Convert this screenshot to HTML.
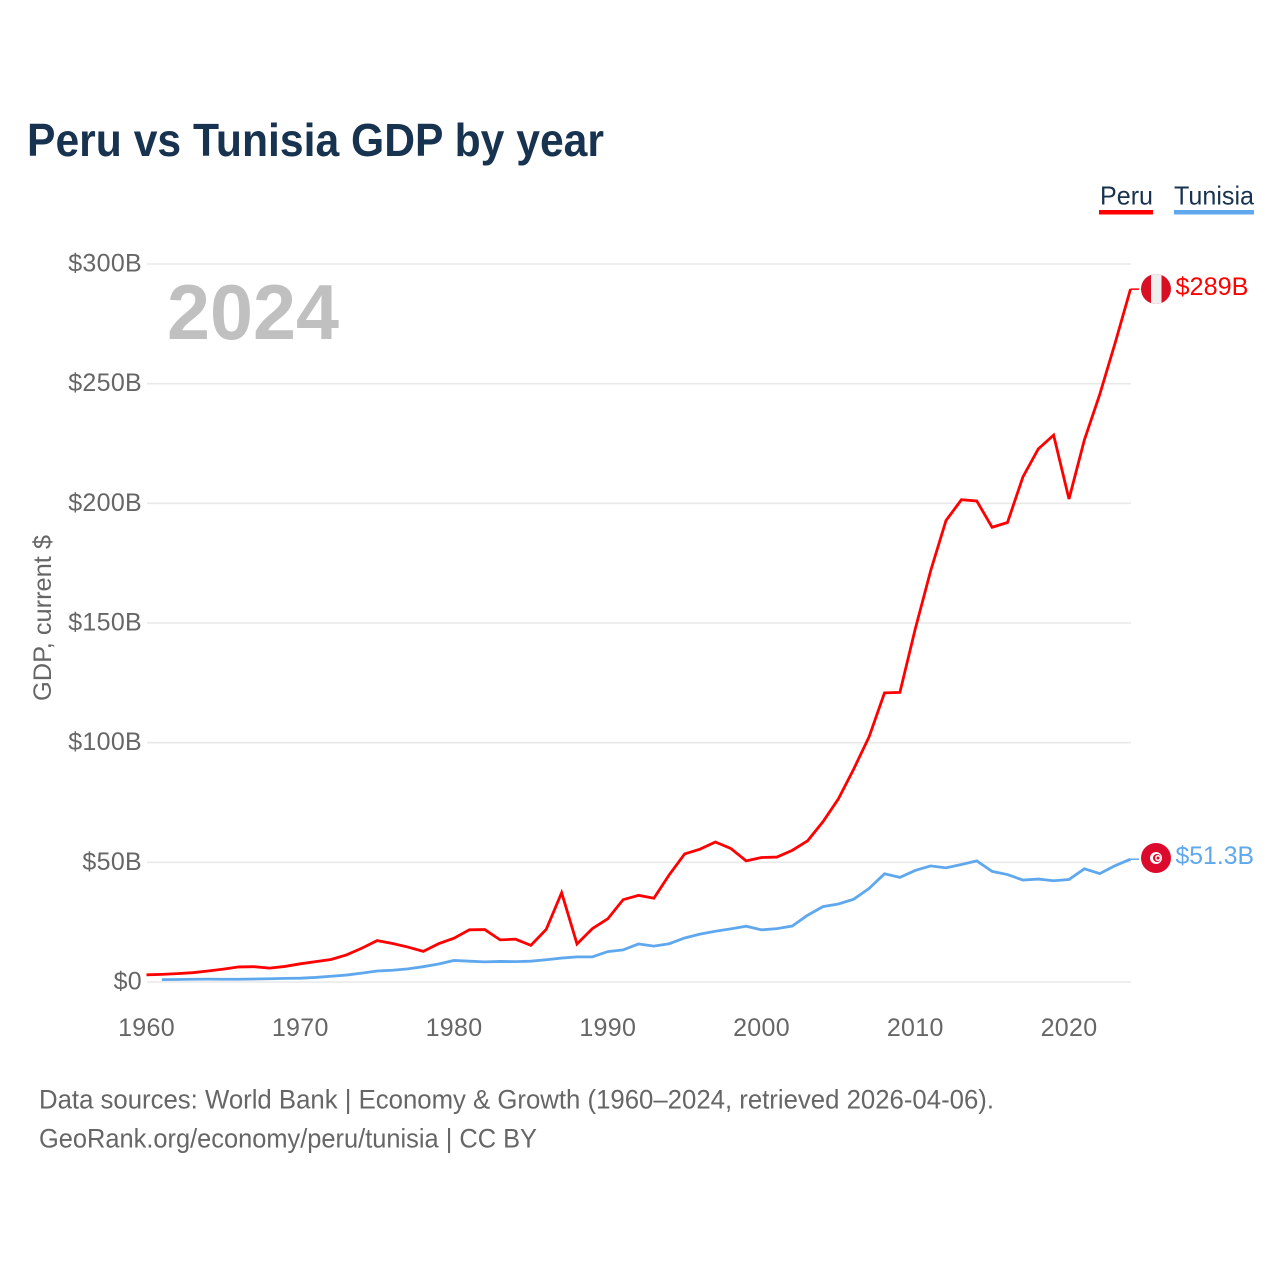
<!DOCTYPE html>
<html lang="en">
<head>
<meta charset="utf-8">
<title>Peru vs Tunisia GDP by year</title>
<style>
html,body{margin:0;padding:0;background:#fff;width:1280px;height:1280px;overflow:hidden}
svg{display:block}
text{font-family:"Liberation Sans",sans-serif}
</style>
</head>
<body>
<svg id="chart" width="1280" height="1280" viewBox="0 0 1280 1280" xmlns="http://www.w3.org/2000/svg">
  <rect width="1280" height="1280" fill="#fff"/>
  <text x="27" y="156" font-size="46" font-weight="700" fill="#18334f" textLength="577" lengthAdjust="spacingAndGlyphs">Peru vs Tunisia GDP by year</text>

  <g>
    <g>
      <text x="1100" y="204.5" font-size="26" fill="#18334f" textLength="53" lengthAdjust="spacingAndGlyphs">Peru</text>
      <rect x="1099" y="210" width="54" height="4.5" fill="#ff0000"/>
    </g>
    <g>
      <text x="1174" y="204.5" font-size="26" fill="#18334f" textLength="80" lengthAdjust="spacingAndGlyphs">Tunisia</text>
      <rect x="1174" y="210" width="80" height="4.5" fill="#5fa8ee"/>
    </g>
  </g>

  <g id="grid"></g>
  <g id="yticks"></g>
  <g id="xticks"></g>

  <text transform="translate(51,701) rotate(-90)" font-size="25" fill="#666" textLength="166" lengthAdjust="spacingAndGlyphs">GDP, current $</text>
  <text x="167" y="339" font-size="78" font-weight="700" fill="#c0c0c0" textLength="172" lengthAdjust="spacingAndGlyphs">2024</text>

  <g id="series"></g>

  <g>
    <clipPath id="peru-clip"><circle cx="1156" cy="289" r="15"/></clipPath>
    <g clip-path="url(#peru-clip)">
      <rect x="1141" y="274" width="30" height="30" fill="#d91023"/>
      <rect x="1151" y="274" width="10.5" height="30" fill="#efefef"/>
    </g>
    <text x="1175.5" y="295" font-size="25" fill="#ff0000" textLength="73" lengthAdjust="spacingAndGlyphs">$289B</text>
  </g>
  <g>
    <g>
      <circle cx="1156" cy="858" r="15" fill="#dc0a2c"/>
      <circle cx="1156" cy="858" r="6" fill="#fff"/>
      <circle cx="1157" cy="858" r="4" fill="#dc0a2c"/>
      <circle cx="1158" cy="858" r="3" fill="#fff"/>
      <circle cx="1158" cy="858" r="1.5" fill="#dc0a2c"/>
    </g>
    <text x="1175.5" y="864" font-size="25" fill="#5fa8ee" textLength="78.5" lengthAdjust="spacingAndGlyphs">$51.3B</text>
  </g>

  <g>
    <text x="39" y="1108.5" font-size="26.5" fill="#666" textLength="955" lengthAdjust="spacingAndGlyphs">Data sources: World Bank | Economy &amp; Growth (1960–2024, retrieved 2026-04-06).</text>
    <text x="39" y="1147.5" font-size="26.5" fill="#666" textLength="498" lengthAdjust="spacingAndGlyphs">GeoRank.org/economy/peru/tunisia | CC BY</text>
  </g>
</svg>
<script>
const startYear = 1960;
const endYear = 2024;
const peruValues = [3.0,3.2,3.5,3.9,4.6,5.4,6.3,6.4,5.8,6.5,7.6,8.5,9.4,11.3,14.1,17.3,16.1,14.6,12.8,16.0,18.3,21.8,21.9,17.6,17.9,15.3,22.0,37.3,15.9,22.3,26.4,34.4,36.2,35.0,44.8,53.5,55.5,58.5,55.8,50.6,52.0,52.2,55.0,59.0,67.0,76.5,89.0,102.5,120.8,121.0,147.5,171.8,192.8,201.5,201.0,190.0,192.0,211.0,222.7,228.5,201.8,226.5,245.5,267.0,289.5];
const tunisiaValues = [null,1.0,1.05,1.15,1.2,1.15,1.15,1.25,1.35,1.5,1.6,1.9,2.4,2.9,3.7,4.6,4.9,5.5,6.4,7.5,9.0,8.7,8.4,8.6,8.5,8.7,9.3,10.0,10.5,10.5,12.7,13.4,15.9,15.0,16.0,18.4,20.0,21.2,22.2,23.3,21.8,22.3,23.4,27.9,31.5,32.6,34.6,39.1,45.2,43.7,46.6,48.5,47.7,49.1,50.6,46.2,44.9,42.6,43.0,42.3,42.8,47.3,45.3,48.6,51.3];
const yTickValues = [0,50,100,150,200,250,300];
const yTickLabels = ["$0","$50B","$100B","$150B","$200B","$250B","$300B"];
const xTickValues = [1960,1970,1980,1990,2000,2010,2020];

const NS = "http://www.w3.org/2000/svg";
function xScale(year){ return 146.5 + (year - startYear) * (1130.5 - 146.5) / (endYear - startYear); }
function yScale(value){ return 982 - value * (982 - 264) / 300; }
function make(tag, attrs, parent){
  const el = document.createElementNS(NS, tag);
  for (const k in attrs) el.setAttribute(k, attrs[k]);
  parent.appendChild(el);
  return el;
}
const gridGroup = document.getElementById('grid');
const yGroup = document.getElementById('yticks');
const xGroup = document.getElementById('xticks');
const seriesGroup = document.getElementById('series');

yTickValues.forEach(function(v, i){
  const line = make('line', {x1:147, x2:1131, y1:yScale(v), y2:yScale(v), stroke:'#e9e9e9', 'stroke-width':1.6}, gridGroup);
  
  
  const t = make('text', {x:142, y:yScale(v)+7.5, 'text-anchor':'end', 'font-size':25, fill:'#666', 'letter-spacing':0.3}, yGroup);
  t.textContent = yTickLabels[i];
  
  
});
xTickValues.forEach(function(y){
  const t = make('text', {x:xScale(y), y:1036, 'text-anchor':'middle', 'font-size':25, fill:'#666', 'letter-spacing':0.3}, xGroup);
  t.textContent = String(y);
  
  
});
function linePoints(values){
  const pts = [];
  values.forEach(function(v, i){
    if (v !== null) pts.push(xScale(startYear + i).toFixed(2) + ',' + yScale(v).toFixed(2));
  });
  return pts;
}
function drawSeries(values, color, name){
  const pl = make('polyline', {points:linePoints(values).join(' '), fill:'none', stroke:color, 'stroke-width':2.8, 'stroke-linejoin':'miter'}, seriesGroup);
  
  
  const last = values[values.length - 1];
  const c = make('line', {x1:xScale(endYear), x2:1139, y1:yScale(last), y2:yScale(last), stroke:color, 'stroke-width':1.5}, seriesGroup);
  
  
}
drawSeries(peruValues, '#ff0000', 'line-peru');
drawSeries(tunisiaValues, '#5fa8ee', 'line-tunisia');
</script>
</body>
</html>
